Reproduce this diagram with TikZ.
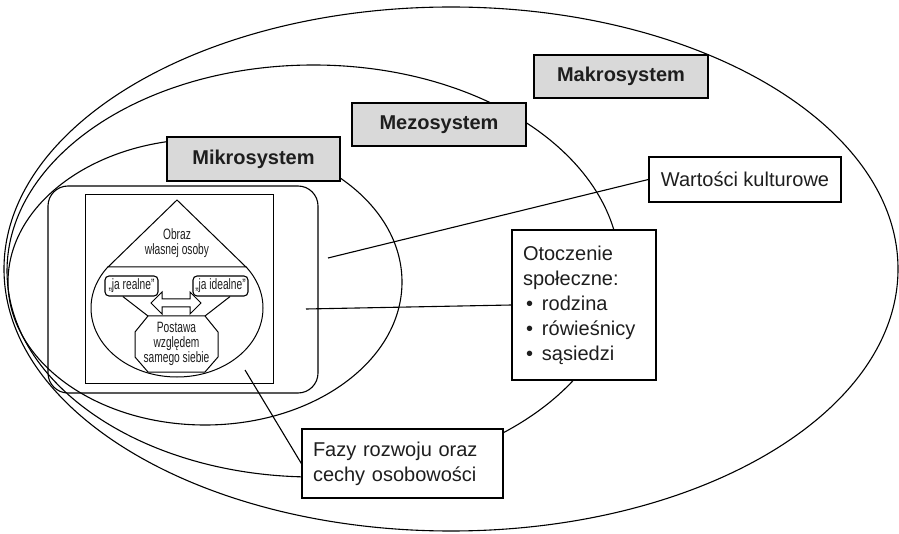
\documentclass[tikz,border=0pt]{standalone}
\usepackage{fontspec}
\setmainfont{Liberation Sans}
\newfontfamily\narrowfont[FakeStretch=0.68]{Liberation Sans}
\usetikzlibrary{calc}
\definecolor{boxgray}{HTML}{D9D9D9}
\definecolor{ink}{HTML}{1E1E1E}
\begin{document}
\begin{tikzpicture}[x=1pt,y=-1pt,
  curve/.style={line width=1.1pt, draw=black},
  frame/.style={line width=1.1pt, draw=black},
  sysbox/.style={draw=black, line width=1.4pt, fill=boxgray, inner sep=0pt,
    text=ink, font=\fontsize{20}{24}\selectfont\bfseries},
  infobox/.style={draw=black, line width=1.3pt, fill=white, inner sep=11pt,
    text=ink, align=left, font=\fontsize{20}{25}\selectfont},
  smalltext/.style={text=ink, align=center, inner sep=0pt,
    font=\narrowfont\fontsize{15}{15}\selectfont},
  jabox/.style={draw=black, line width=1.1pt, fill=white, rounded corners=4pt,
    inner sep=0pt, minimum height=20pt, text=ink,
    font=\narrowfont\fontsize{15}{15}\selectfont},
  link/.style={line width=1.1pt, draw=black}]
\useasboundingbox (0,0) rectangle (899,534);

% nested system ellipses, all touching on the left
\draw[curve] (451,269) ellipse [x radius=447pt, y radius=262pt];
\draw[curve] (313.5,271) ellipse [x radius=306.5pt, y radius=206pt];
\draw[curve] (205,282) ellipse [x radius=197pt, y radius=143pt];

% individual: rounded frame and inner square
\draw[frame, rounded corners=20pt] (48,186) rectangle (318,393);
\draw[frame, line width=1pt, fill=white] (85,195) rectangle (273,383);

% teardrop: lower ellipse with a triangle on top
\begin{scope}
  \clip (0,267) rectangle (899,534);
  \draw[frame, line width=1pt] (177,308) ellipse [x radius=86pt, y radius=69pt];
\end{scope}
\draw[frame, line width=1pt, fill=white] (177,200) -- (246,267) -- (108,267) -- cycle;
\node[smalltext] (obraz) at (177,243) {Obraz\\własnej osoby};

% octagon with self-attitude
\coordinate (o1) at (148,316);
\coordinate (o2) at (205,316);
\coordinate (o3) at (218,332);
\coordinate (o4) at (218,357);
\coordinate (o5) at (205,372);
\coordinate (o6) at (148,372);
\coordinate (o7) at (135,357);
\coordinate (o8) at (135,332);
\draw[frame, line width=1pt, fill=white] (o1) -- (o2) -- (o3) -- (o4) -- (o5) -- (o6) -- (o7) -- (o8) -- cycle;
\node[smalltext] (postawa) at (176.5,343.5) {Postawa\\względem\\samego siebie};

% real and ideal self
\node[jabox, minimum width=53pt] (jareal) at (131.5,286) {„ja realne”};
\node[jabox, minimum width=55pt] (jaideal) at (220.5,286) {„ja idealne”};
\draw[link, line width=1pt] ($(jareal.south west)!0.34!(jareal.south east)$) -- (o1);
\draw[link, line width=1pt] ($(jaideal.south east)!0.33!(jaideal.south west)$) -- (o2);

% two-way block arrow between them
\draw[frame, line width=1pt, fill=white] (151,303) -- (162,292) -- (162,299) -- (190,299) -- (190,292)
  -- (201,303) -- (190,314) -- (190,307) -- (162,307) -- (162,314) -- cycle;

% system labels
\node[sysbox, minimum width=174pt, minimum height=43pt] (makro) at (621,76.5) {Makrosystem};
\node[sysbox, minimum width=174pt, minimum height=43pt] (mezo) at (439,124.5) {Mezosystem};
\node[sysbox, minimum width=173pt, minimum height=44pt] (mikro) at (253.5,159) {Mikrosystem};

% description boxes
\node[infobox, align=center, minimum width=192pt, minimum height=45pt, inner sep=0pt]
  (wartosci) at (745,179.5) {Wartości kulturowe};
\node[infobox, minimum width=144pt, minimum height=150pt, text width=122pt]
  (otoczenie) at (584,305) {Otoczenie\\społeczne:\\
  \makebox[19pt][l]{\hspace{3pt}•}rodzina\\
  \makebox[19pt][l]{\hspace{3pt}•}rówieśnicy\\
  \makebox[19pt][l]{\hspace{3pt}•}sąsiedzi};
\node[infobox, minimum width=201pt, minimum height=69pt, text width=179pt]
  (fazy) at (402.5,463.5) {Fazy rozwoju oraz\\cechy osobowości};

% leader lines
\coordinate (wstart) at (328,258);
\coordinate (ostart) at (306,309);
\coordinate (fstart) at (245,370);
\draw[link] (wstart) -- (wartosci.west);
\draw[link] (ostart) -- (otoczenie.west);
\draw[link] (fstart) -- (fazy.west);
\end{tikzpicture}
\end{document}
